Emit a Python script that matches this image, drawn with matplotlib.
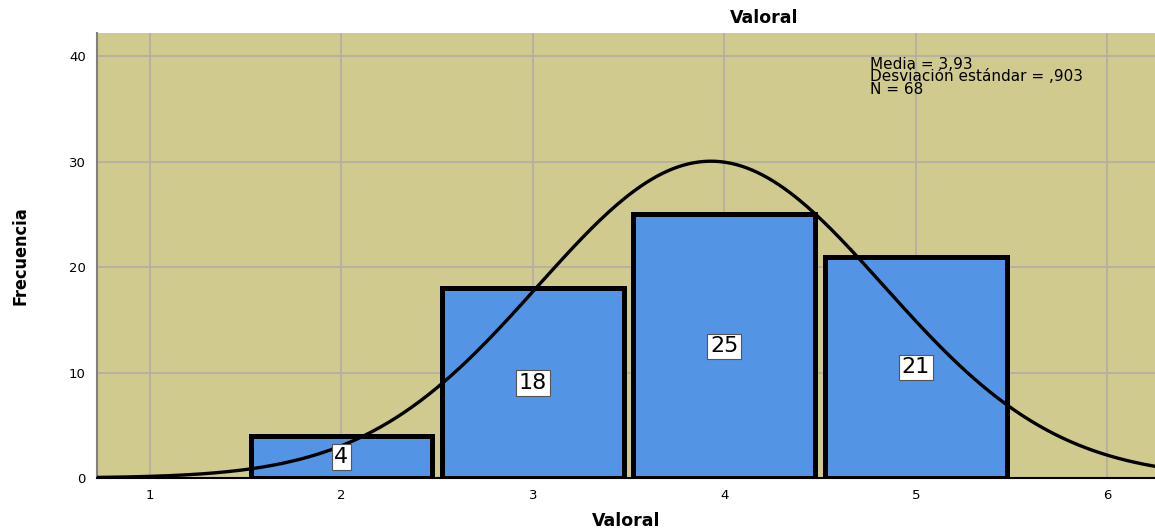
import numpy as np
import matplotlib.pyplot as plt

# histogram data
categories = [2, 3, 4, 5]
counts = [4, 18, 25, 21]
mean = 3.93
std_dev = 0.903
n_total = 68
stats_lines = ["Media = 3,93", "Desviación estándar = ,903", "N = 68"]
y_ticks = [0, 10, 20, 30, 40]
x_ticks = [1, 2, 3, 4, 5, 6]

bg = '#D0CA8E'
bar_color = '#5394E4'
grid_color = '#B4B0A0'

fig = plt.figure(figsize=(11.55, 5.32), dpi=100)
ax = fig.add_axes([0.084, 0.1015, 0.916, 0.8365])
ax.set_facecolor(bg)
ax.set_xlim(0.723, 6.25)
ax.set_ylim(0, 42.2)

ax.set_xticks(x_ticks)
ax.set_yticks(y_ticks)
ax.grid(True, color=grid_color, linewidth=1.3, zorder=0)
ax.set_axisbelow(True)
ax.tick_params(length=0, labelsize=9.5, pad=8)

bars = ax.bar(categories, counts, width=0.95, color=bar_color,
              edgecolor='black', linewidth=3.6, zorder=2)
for b, c in zip(bars, counts):
    ax.text(b.get_x() + b.get_width() / 2, c / 2, str(c), ha='center', va='center',
            fontsize=16, zorder=4,
            bbox=dict(boxstyle='square,pad=0.12', facecolor='white',
                      edgecolor='#555555', linewidth=0.8))

# normal curve scaled to counts (bin width 1)
xs = np.linspace(0.723, 6.25, 400)
pdf = np.exp(-0.5 * ((xs - mean) / std_dev) ** 2) / (std_dev * np.sqrt(2 * np.pi))
ax.plot(xs, n_total * pdf, color='black', linewidth=2.4, zorder=3)

for side in ['top', 'right']:
    ax.spines[side].set_visible(False)
ax.spines['left'].set_color('#808080')
ax.spines['left'].set_linewidth(1.5)
ax.spines['bottom'].set_color('black')
ax.spines['bottom'].set_linewidth(1.5)

ax.text(0.731, 0.947, "\n".join(stats_lines), transform=ax.transAxes,
        fontsize=11, va='top', ha='left', linespacing=0.8,
        fontstretch='normal', family='DejaVu Sans')

fig.text(0.662, 0.966, 'Valoral', ha='center', va='center',
         fontsize=12.5, fontweight='bold')
fig.text(0.542, 0.02, 'Valoral', ha='center', va='center',
         fontsize=12.5, fontweight='bold')
fig.text(0.018, 0.52, 'Frecuencia', ha='center', va='center', rotation=90,
         fontsize=13, fontweight='bold', fontstretch='condensed')

fig.savefig('out.png', dpi=100)
